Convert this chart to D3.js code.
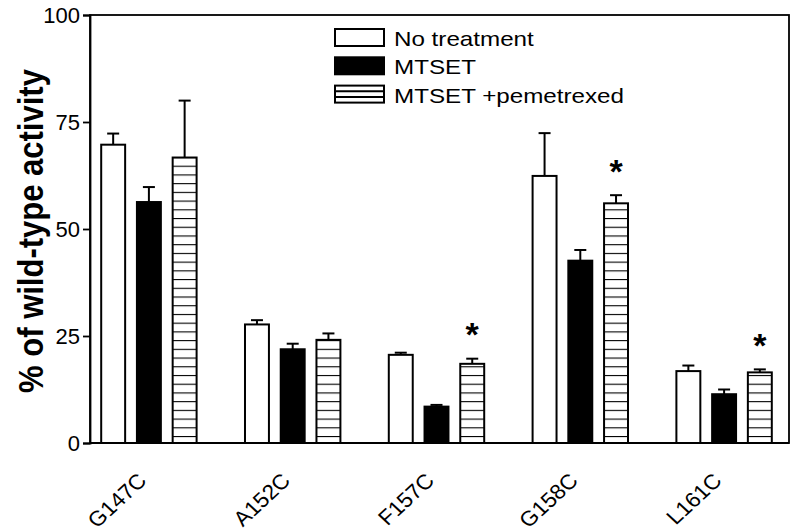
<!DOCTYPE html>
<html>
<head>
<meta charset="utf-8">
<script src="https://cdn.jsdelivr.net/npm/d3@7"></script>
<style>
  html, body { margin: 0; padding: 0; background: #fff; }
  svg { display: block; font-family: "Liberation Sans", Arial, sans-serif; }
</style>
</head>
<body>
<svg id="chart" width="791" height="532"></svg>
<script>
// ---- data ----
const categories = ["G147C", "A152C", "F157C", "G158C", "L161C"];
const seriesNames = ["No treatment", "MTSET", "MTSET +pemetrexed"];
const noTreatment    = [69.7, 27.7, 20.6, 62.4, 16.8];
const noTreatmentErr = [2.6, 1.0, 0.5, 10.0, 1.3];
const mtset          = [56.3, 21.9, 8.5, 42.6, 11.4];
const mtsetErr       = [3.5, 1.3, 0.4, 2.5, 1.1];
const pemetrexed     = [66.7, 24.1, 18.5, 56.0, 16.5];
const pemetrexedErr  = [13.3, 1.5, 1.2, 1.9, 0.7];
const significant    = [false, false, true, true, true];
const yTicks = [0, 25, 50, 75, 100];
const yLabel = "% of wild-type activity";

const values = [noTreatment, mtset, pemetrexed];
const errors = [noTreatmentErr, mtsetErr, pemetrexedErr];

// ---- layout ----
const svg = d3.select("#chart");
const plot = { left: 90, right: 789, top: 15, bottom: 443 };
const stretch = 1.18; // horizontal stretch of the original figure's text

const y = d3.scaleLinear().domain([0, 100]).range([plot.bottom, plot.top]);
const x = d3.scaleBand().domain(categories).range([77, 796]).padding(0);
const xs = d3.scaleBand().domain(seriesNames).range([-53.6, 53.6]).paddingInner(0.33).paddingOuter(0.165);

// hatch pattern (horizontal lines)
const defs = svg.append("defs");
const pat = defs.append("pattern")
  .attr("id", "hatch")
  .attr("patternUnits", "userSpaceOnUse")
  .attr("x", 0).attr("y", 436 - 8.72 * 50)
  .attr("width", 10).attr("height", 8.72);
pat.append("rect").attr("width", 10).attr("height", 8.72).attr("fill", "#fff");
pat.append("line").attr("x1", 0).attr("x2", 10).attr("y1", 0).attr("y2", 0)
  .attr("stroke", "#000").attr("stroke-width", 2.2);

const fills = ["#fff", "#000", "url(#hatch)"];

// frame
svg.append("rect")
  .attr("x", plot.left).attr("y", plot.top)
  .attr("width", plot.right - plot.left).attr("height", plot.bottom - plot.top)
  .attr("fill", "none").attr("stroke", "#000").attr("stroke-width", 1.8);

// bars
const rows = [];
categories.forEach((c, i) => {
  seriesNames.forEach((s, j) => {
    rows.push({ cat: c, ser: s, j: j, v: values[j][i], e: errors[j][i] });
  });
});
const cx = d => x(d.cat) + x.bandwidth() / 2 + xs(d.ser) + xs.bandwidth() / 2;

const g = svg.append("g");
const bars = g.selectAll("g.bar").data(rows).join("g").attr("class", "bar");

// error bars (upward only)
bars.append("line")
  .attr("x1", cx).attr("x2", cx)
  .attr("y1", d => y(d.v)).attr("y2", d => y(d.v + d.e))
  .attr("stroke", "#000").attr("stroke-width", 2);
bars.append("line")
  .attr("x1", d => cx(d) - 6).attr("x2", d => cx(d) + 6)
  .attr("y1", d => y(d.v + d.e)).attr("y2", d => y(d.v + d.e))
  .attr("stroke", "#000").attr("stroke-width", 2);

bars.append("rect")
  .attr("x", d => x(d.cat) + x.bandwidth() / 2 + xs(d.ser))
  .attr("y", d => y(d.v))
  .attr("width", xs.bandwidth())
  .attr("height", d => y(0) - y(d.v))
  .attr("fill", d => fills[d.j])
  .attr("stroke", "#000").attr("stroke-width", 2);

// significance stars
const starSize = 34;
svg.append("g").selectAll("text")
  .data(categories.map((c, i) => ({ cat: c, ser: seriesNames[2], sig: significant[i], top: pemetrexed[i] + pemetrexedErr[i] })).filter(d => d.sig))
  .join("text")
  .attr("x", cx)
  .attr("y", d => y(d.top) - 32 + 0.57 * starSize)
  .attr("text-anchor", "middle")
  .attr("font-size", starSize).attr("font-weight", "bold")
  .text("*");

// y axis
const yAxis = svg.append("g")
  .attr("transform", `translate(${plot.left},0)`)
  .call(d3.axisLeft(y).tickValues(yTicks).tickSize(7).tickPadding(3).tickFormat(d3.format("d")));
yAxis.select(".domain").attr("stroke-width", 1.8);
yAxis.selectAll(".tick line").attr("stroke-width", 1.8);
yAxis.selectAll(".tick text").attr("font-size", 22).attr("fill", "#000")
  .attr("font-family", "'Liberation Sans', Arial, sans-serif");

// bottom axis line + category labels
svg.append("line")
  .attr("x1", plot.left).attr("x2", plot.right)
  .attr("y1", plot.bottom).attr("y2", plot.bottom)
  .attr("stroke", "#000").attr("stroke-width", 2);

svg.append("g").selectAll("text").data(categories).join("text")
  .attr("transform", d => `translate(${x(d) + x.bandwidth() / 2 - 1},${plot.bottom + 39}) scale(1.08,1) rotate(-45)`)
  .attr("text-anchor", "end")
  .attr("font-size", 21)
  .text(d => d);

// y label
svg.append("text")
  .attr("transform", `translate(43,231) scale(1.12,1) rotate(-90)`)
  .attr("text-anchor", "middle")
  .attr("font-size", 31).attr("font-weight", "bold")
  .text(yLabel);

// legend
const legend = svg.append("g").attr("transform", "translate(335,29)");
const li = legend.selectAll("g").data(seriesNames).join("g")
  .attr("transform", (d, i) => `translate(0,${i * 28.3})`);
li.append("rect")
  .attr("width", 49).attr("height", 17)
  .attr("fill", (d, i) => i === 1 ? "#000" : "#fff")
  .attr("stroke", "#000").attr("stroke-width", 2);
li.filter((d, i) => i === 2).selectAll("line").data([17 / 3, 34 / 3]).join("line")
  .attr("x1", 0).attr("x2", 49).attr("y1", d => d).attr("y2", d => d)
  .attr("stroke", "#000").attr("stroke-width", 2);
li.append("text")
  .attr("transform", `translate(59,17) scale(${stretch},1)`)
  .attr("font-size", 20.5)
  .text(d => d);
</script>
</body>
</html>
